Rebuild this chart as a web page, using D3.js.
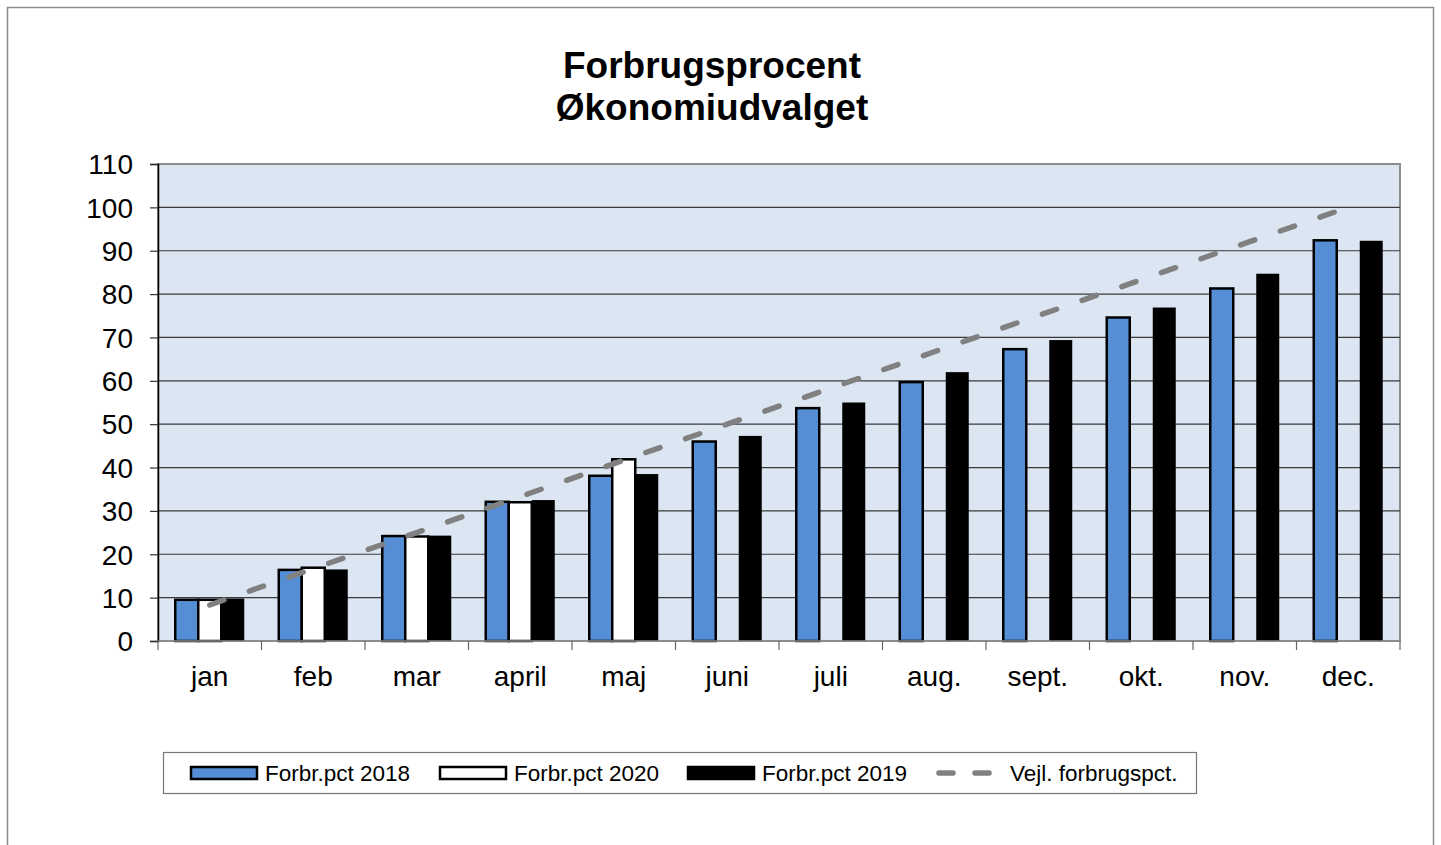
<!DOCTYPE html>
<html>
<head>
<meta charset="utf-8">
<script src="https://cdn.jsdelivr.net/npm/d3@7"></script>
<style>
  body { margin: 0; background: #fff; }
  svg text { font-family: "Liberation Sans", Arial, sans-serif; }
</style>
</head>
<body>
<div id="chart"></div>
<script>
var months = ["jan", "feb", "mar", "april", "maj", "juni", "juli", "aug.", "sept.", "okt.", "nov.", "dec."];
var pct2018 = [9.5, 16.4, 24.2, 32.1, 38.1, 46.0, 53.7, 59.7, 67.3, 74.6, 81.3, 92.4];
var pct2020 = [9.5, 16.9, 24.1, 32.0, 41.9, null, null, null, null, null, null, null];
var pct2019 = [9.8, 16.5, 24.3, 32.5, 38.5, 47.3, 55.0, 62.0, 69.4, 76.9, 84.7, 92.3];
var vejl = [8.3, 16.7, 25, 33.3, 41.7, 50, 58.3, 66.7, 75, 83.3, 91.7, 100];
var yTicks = [0, 10, 20, 30, 40, 50, 60, 70, 80, 90, 100, 110];

var series = [
  { name: "Forbr.pct 2018", values: pct2018, fill: "#558ed5", stroke: "#000" },
  { name: "Forbr.pct 2020", values: pct2020, fill: "#ffffff", stroke: "#000" },
  { name: "Forbr.pct 2019", values: pct2019, fill: "#000000", stroke: "none" }
];

var W = 1441, H = 845;
var margin = { top: 164, left: 158, right: 40, bottom: 204 };
var width = 1400 - margin.left;
var height = 641 - margin.top;

var svg = d3.select("#chart").append("svg")
  .attr("width", W)
  .attr("height", H);

// outer frame
svg.append("rect")
  .attr("x", 7.5).attr("y", 7.5)
  .attr("width", 1426).attr("height", 850)
  .attr("fill", "#fff")
  .attr("stroke", "#8c8c8c")
  .attr("stroke-width", 1.5);

svg.append("text")
  .attr("x", 712).attr("y", 78)
  .attr("text-anchor", "middle")
  .style("font-size", "37px").style("font-weight", "bold")
  .text("Forbrugsprocent");
svg.append("text")
  .attr("x", 712).attr("y", 120)
  .attr("text-anchor", "middle")
  .style("font-size", "37px").style("font-weight", "bold")
  .text("Økonomiudvalget");

var g = svg.append("g")
  .attr("transform", "translate(" + margin.left + "," + margin.top + ")");

var x = d3.scaleBand().domain(months).range([0, width]).padding(0);
var y = d3.scaleLinear().domain([0, 110]).range([height, 0]);

// plot background
g.append("rect")
  .attr("width", width).attr("height", height)
  .attr("fill", "#dce6f2")
  .attr("stroke", "#8c8c8c")
  .attr("stroke-width", 2);

// gridlines
g.selectAll(".grid")
  .data(yTicks.filter(d => d > 0 && d < 110))
  .enter()
  .append("line")
  .attr("x1", 0).attr("x2", width)
  .attr("y1", d => y(d)).attr("y2", d => y(d))
  .attr("stroke", "#3a3a3a")
  .attr("stroke-width", 1.2);

// bars: 3 slots per month, gap width 150%
var barW = x.bandwidth() / 4.5;
var offset = barW * 0.75;
series.forEach(function (s, si) {
  g.selectAll(".bar" + si)
    .data(months.map((m, i) => ({ m: m, v: s.values[i] })).filter(d => d.v != null))
    .enter()
    .append("rect")
    .attr("x", d => x(d.m) + offset + si * barW)
    .attr("y", d => y(d.v))
    .attr("width", barW)
    .attr("height", d => height - y(d.v))
    .attr("fill", s.fill)
    .attr("stroke", s.stroke)
    .attr("stroke-width", 2.5);
});

// guideline
var line = d3.line()
  .x((d, i) => x(months[i]) + x.bandwidth() / 2)
  .y(d => y(d));
g.append("path")
  .datum(vejl)
  .attr("d", line)
  .attr("fill", "none")
  .attr("stroke", "#808080")
  .attr("stroke-width", 5.5)
  .attr("stroke-linecap", "round")
  .attr("stroke-dasharray", "15,27");

// y axis
var yAxis = d3.axisLeft(y).tickValues(yTicks).tickSize(8).tickPadding(17);
var ya = g.append("g").call(yAxis);
ya.select(".domain").attr("stroke", "#000").attr("stroke-width", 1.5);
ya.selectAll(".tick line").attr("stroke", "#333").attr("stroke-width", 1.2);
ya.selectAll("text")
  .style("font-size", "28px")
  .attr("fill", "#000")
  .attr("dy", "0.35em");

// x axis
var xa = g.append("g").attr("transform", "translate(0," + height + ")");
xa.append("line")
  .attr("x1", 0).attr("x2", width)
  .attr("stroke", "#8c8c8c").attr("stroke-width", 1.5);
xa.selectAll(".xt")
  .data(d3.range(months.length + 1))
  .enter()
  .append("line")
  .attr("x1", i => i * x.bandwidth()).attr("x2", i => i * x.bandwidth())
  .attr("y1", 0).attr("y2", 9)
  .attr("stroke", "#666").attr("stroke-width", 1.2);
xa.selectAll(".xl")
  .data(months)
  .enter()
  .append("text")
  .attr("x", d => x(d) + x.bandwidth() / 2)
  .attr("y", 45)
  .attr("text-anchor", "middle")
  .style("font-size", "28px")
  .text(d => d);

// legend
var lg = svg.append("g");
lg.append("rect")
  .attr("x", 163.5).attr("y", 752.5)
  .attr("width", 1033).attr("height", 41)
  .attr("fill", "#fff")
  .attr("stroke", "#777").attr("stroke-width", 1.2);

var legendX = [191, 440, 688];
series.forEach(function (s, i) {
  lg.append("rect")
    .attr("x", legendX[i]).attr("y", 767)
    .attr("width", 66).attr("height", 12)
    .attr("fill", s.fill)
    .attr("stroke", s.stroke == "none" ? s.fill : s.stroke)
    .attr("stroke-width", 2.5);
  lg.append("text")
    .attr("x", legendX[i] + 74).attr("y", 781)
    .style("font-size", "22.5px")
    .text(s.name);
});
lg.append("line")
  .attr("x1", 939).attr("x2", 996)
  .attr("y1", 773).attr("y2", 773)
  .attr("stroke", "#808080")
  .attr("stroke-width", 5.5)
  .attr("stroke-linecap", "round")
  .attr("stroke-dasharray", "14,22");
lg.append("text")
  .attr("x", 1010).attr("y", 781)
  .style("font-size", "22.5px")
  .text("Vejl. forbrugspct.");
</script>
</body>
</html>
